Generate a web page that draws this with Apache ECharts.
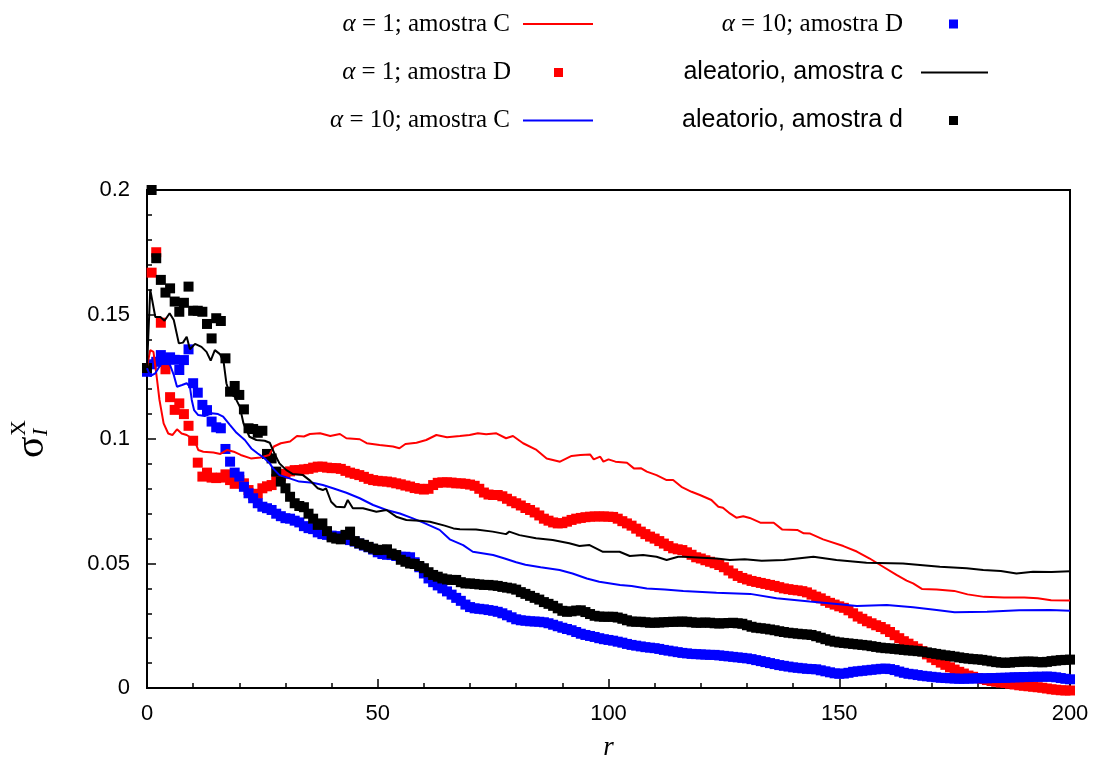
<!DOCTYPE html>
<html>
<head>
<meta charset="utf-8">
<script src="https://cdn.jsdelivr.net/npm/echarts@6/dist/echarts.min.js"></script>
<style>html,body{margin:0;padding:0;background:#fff}#c{width:1096px;height:758px}</style>
</head>
<body>
<div id="c"></div>
<script>
// ---------- DATA ----------
const seriesNames = ['α = 1; amostra C', 'α = 1; amostra D', 'α = 10; amostra C', 'α = 10; amostra D', 'aleatorio, amostra c', 'aleatorio, amostra d'];
const xTicks = [0, 50, 100, 150, 200];
const yTicks = [0, 0.05, 0.1, 0.15, 0.2];

// lines: [r, value]
const alpha1C = [[0,0.129],[0.7,0.1357],[1.4,0.135],[2.1,0.125],[2.7,0.1157],[3.6,0.1063],[4.6,0.1022],[5.5,0.1016],[6.5,0.1039],[7.5,0.1022],[8.6,0.1016],[9.7,0.1003],[10.4,0.0989],[11.1,0.0956],[12.2,0.0949],[14.4,0.0946],[15.9,0.094],[17.4,0.0956],[18.8,0.0949],[20.3,0.0936],[22.5,0.0922],[24.6,0.0926],[26.5,0.0936],[27.5,0.097],[29,0.0983],[31,0.099],[32.5,0.1012],[34,0.101],[35.3,0.102],[37.5,0.1023],[39.7,0.1012],[41.8,0.102],[43.2,0.1003],[46.1,0.0999],[47.6,0.0983],[50.4,0.0976],[53.3,0.097],[54.7,0.0963],[56,0.098],[58.4,0.0985],[60.5,0.0996],[62.7,0.1016],[65,0.1007],[67.8,0.1012],[69.9,0.1016],[71.7,0.1023],[73.5,0.1019],[75.7,0.1023],[77.8,0.1003],[79.3,0.1012],[81.5,0.0983],[84.4,0.0956],[86.6,0.0922],[89.5,0.0909],[92,0.0932],[93.9,0.0936],[96,0.0938],[96.8,0.0918],[98.2,0.0929],[98.9,0.0909],[100,0.0918],[101.5,0.0909],[104,0.0905],[105.5,0.0882],[107,0.0883],[108.3,0.0869],[110.4,0.0855],[112.6,0.0835],[114,0.0835],[115.8,0.0808],[118,0.0788],[119.8,0.0775],[122.3,0.0755],[123.8,0.0728],[124.8,0.0724],[126.3,0.0701],[127.7,0.0684],[129.2,0.069],[130.6,0.0683],[132.9,0.0664],[135.8,0.0664],[137.6,0.0637],[140.9,0.0635],[142.3,0.0621],[143.7,0.062],[146.5,0.0597],[150.9,0.057],[153.8,0.0548],[156.6,0.052],[159.5,0.0487],[162.4,0.0454],[164.6,0.0431],[166,0.042],[167.9,0.0398],[171.1,0.0396],[174.9,0.039],[177.8,0.0376],[181.4,0.0366],[185.7,0.0363],[190.1,0.0363],[193,0.036],[195.9,0.0352],[200,0.0351]];
const alpha10C = [[0,0.1285],[0.7,0.1253],[1.8,0.1264],[2.9,0.1297],[4,0.1317],[5,0.1297],[5.8,0.1257],[6.5,0.121],[7.6,0.1217],[8.6,0.1224],[9.3,0.121],[9.7,0.1157],[10.2,0.1116],[11.1,0.1096],[12.5,0.1092],[14,0.1103],[15.4,0.11],[16.5,0.109],[18,0.1056],[19.4,0.1025],[21.2,0.0996],[22.6,0.0962],[24,0.0942],[25.5,0.0922],[26.6,0.0902],[27.3,0.0882],[28.7,0.0855],[30.9,0.0842],[33,0.0829],[35.9,0.0824],[38.1,0.0815],[40.3,0.0802],[43.2,0.0784],[46.1,0.0762],[49,0.0735],[51.9,0.0715],[54.8,0.0701],[57.6,0.0681],[60,0.0663],[63.4,0.0635],[65.6,0.0597],[68.5,0.0574],[70.6,0.0547],[75,0.0534],[77.5,0.052],[80,0.0505],[82,0.0495],[85.3,0.0485],[89.4,0.0474],[92.2,0.046],[95.3,0.044],[98,0.0427],[102.5,0.0414],[105,0.041],[108.3,0.04],[112.2,0.0396],[116.2,0.039],[123.4,0.0383],[130.7,0.0378],[136.4,0.036],[143.6,0.0347],[149.5,0.0337],[153.8,0.0329],[160.3,0.0333],[166,0.0324],[171.1,0.0313],[175,0.0304],[182,0.0306],[189,0.0312],[195.7,0.0313],[200,0.031]];
const randomC = [[0,0.1285],[0.7,0.16],[1.8,0.149],[2.9,0.149],[3.8,0.1475],[4.9,0.1505],[5.8,0.1478],[6.9,0.1384],[7.8,0.1387],[8.6,0.1411],[9.3,0.136],[10.4,0.1382],[11.8,0.137],[12.9,0.135],[13.8,0.1315],[14.7,0.1357],[15.8,0.1341],[16.6,0.131],[17.2,0.1224],[17.9,0.1183],[19,0.117],[20.1,0.113],[20.9,0.1063],[22.2,0.1009],[23.7,0.0996],[25.5,0.0993],[26.6,0.0985],[27.6,0.0942],[28.7,0.0902],[30.2,0.0875],[31.6,0.0859],[33.8,0.0855],[35.2,0.0835],[37,0.0802],[38.1,0.0795],[38.8,0.0802],[39.9,0.0748],[41,0.0728],[42.8,0.0726],[43.5,0.0755],[44.6,0.0722],[46.8,0.0722],[49.7,0.0708],[51.9,0.0715],[54,0.0688],[56.2,0.0675],[59.1,0.0672],[61.3,0.0668],[64.5,0.0652],[66.4,0.0641],[67.8,0.0638],[71.3,0.0637],[74.9,0.0628],[77.8,0.0618],[78.5,0.0628],[80.7,0.0614],[84.3,0.0601],[87.9,0.0594],[91.5,0.0581],[93.7,0.057],[95.9,0.0574],[98.8,0.0547],[102.4,0.0547],[104.6,0.053],[107.5,0.0534],[110.4,0.0527],[112.6,0.0514],[115.1,0.0527],[116.2,0.0527],[123.4,0.052],[126.3,0.0514],[129.5,0.0517],[133.2,0.0511],[138,0.0514],[144.4,0.0527],[149.4,0.0514],[155.9,0.0503],[163.8,0.05],[171.8,0.0487],[177.6,0.0481],[181.2,0.0474],[185,0.047],[188.4,0.046],[192,0.0467],[196,0.0466],[200,0.0469]];

// squares: one value per r = 0, 1, 2, ... 200
const alpha1D = [0.1285,0.1668,0.1750,0.1467,0.1280,0.1168,0.1117,0.1143,0.1100,0.1053,
0.0993,0.0905,0.0849,0.0865,0.0845,0.0843,0.0845,0.0858,0.0835,0.0820,
0.0835,0.0822,0.0795,0.0775,0.0780,0.0802,0.0810,0.0815,0.0840,0.0850,
0.0860,0.0870,0.0875,0.0875,0.0878,0.0880,0.0885,0.0889,0.0889,0.0885,
0.0883,0.0883,0.0880,0.0872,0.0865,0.0860,0.0855,0.0848,0.0840,0.0835,
0.0832,0.0830,0.0829,0.0826,0.0822,0.0818,0.0813,0.0809,0.0803,0.0800,
0.0797,0.0800,0.0815,0.0824,0.0826,0.0826,0.0825,0.0822,0.0822,0.0820,
0.0817,0.0812,0.0800,0.0785,0.0777,0.0775,0.0775,0.0770,0.0760,0.0750,
0.0742,0.0733,0.0723,0.0715,0.0705,0.0693,0.0680,0.0672,0.0665,0.0661,
0.0662,0.0668,0.0675,0.0680,0.0683,0.0686,0.0688,0.0689,0.0689,0.0689,
0.0688,0.0687,0.0680,0.0670,0.0661,0.0652,0.0640,0.0628,0.0618,0.0608,
0.0600,0.0590,0.0580,0.0570,0.0561,0.0557,0.0554,0.0545,0.0535,0.0525,
0.0520,0.0513,0.0507,0.0501,0.0494,0.0485,0.0472,0.0460,0.0450,0.0442,
0.0436,0.0430,0.0426,0.0422,0.0418,0.0414,0.0410,0.0405,0.0400,0.0397,
0.0394,0.0392,0.0389,0.0384,0.0375,0.0367,0.0360,0.0350,0.0342,0.0335,
0.0328,0.0322,0.0312,0.0300,0.0287,0.0278,0.0268,0.0260,0.0252,0.0245,
0.0236,0.0225,0.0212,0.0200,0.0188,0.0178,0.0168,0.0158,0.0148,0.0135,
0.0122,0.0112,0.0102,0.0093,0.0083,0.0074,0.0065,0.0058,0.0050,0.0045,
0.0040,0.0036,0.0032,0.0028,0.0025,0.0022,0.0020,0.0017,0.0014,0.0011,
0.0009,0.0007,0.0005,0.0003,0.0001,-0.0002,-0.0005,-0.0007,-0.0009,-0.0010,-0.0010];
const alpha10D = [0.1270,0.1300,0.1310,0.1337,0.1317,0.1328,0.1318,0.1277,0.1317,0.1360,
0.1224,0.1186,0.1137,0.1116,0.1070,0.1047,0.1043,0.0960,0.0909,0.0865,
0.0849,0.0808,0.0782,0.0762,0.0742,0.0728,0.0722,0.0715,0.0700,0.0690,
0.0682,0.0680,0.0672,0.0665,0.0650,0.0642,0.0638,0.0625,0.0618,0.0615,
0.0612,0.0610,0.0606,0.0600,0.0594,0.0588,0.0580,0.0572,0.0565,0.0556,
0.0545,0.0538,0.0535,0.0534,0.0530,0.0527,0.0527,0.0525,0.0505,0.0485,
0.0460,0.0440,0.0425,0.0412,0.0400,0.0388,0.0375,0.0362,0.0350,0.0335,
0.0325,0.0320,0.0318,0.0316,0.0313,0.0310,0.0306,0.0300,0.0292,0.0284,
0.0276,0.0272,0.0270,0.0268,0.0267,0.0266,0.0264,0.0260,0.0254,0.0248,
0.0242,0.0237,0.0232,0.0225,0.0218,0.0213,0.0209,0.0205,0.0200,0.0196,
0.0193,0.0190,0.0186,0.0182,0.0177,0.0173,0.0170,0.0167,0.0164,0.0162,
0.0160,0.0157,0.0153,0.0150,0.0147,0.0144,0.0141,0.0139,0.0137,0.0136,
0.0135,0.0134,0.0133,0.0133,0.0131,0.0129,0.0127,0.0125,0.0123,0.0121,
0.0119,0.0116,0.0112,0.0108,0.0104,0.0100,0.0096,0.0092,0.0089,0.0086,
0.0083,0.0081,0.0079,0.0077,0.0076,0.0075,0.0071,0.0067,0.0063,0.0059,
0.0057,0.0058,0.0061,0.0065,0.0067,0.0069,0.0071,0.0073,0.0075,0.0077,
0.0078,0.0076,0.0072,0.0066,0.0061,0.0057,0.0055,0.0052,0.0049,0.0047,
0.0045,0.0043,0.0041,0.0040,0.0039,0.0038,0.0037,0.0037,0.0038,0.0038,
0.0039,0.0039,0.0039,0.0040,0.0040,0.0041,0.0041,0.0042,0.0043,0.0043,
0.0044,0.0044,0.0045,0.0045,0.0045,0.0046,0.0045,0.0043,0.0040,0.0037,0.0035];
const randomD = [0.1285,0.2000,0.1726,0.1639,0.1588,0.1605,0.1552,0.1511,0.1547,0.1612,
0.1515,0.1515,0.1511,0.1462,0.1404,0.1485,0.1474,0.1324,0.1190,0.1213,
0.1177,0.1119,0.1043,0.1040,0.1025,0.1033,0.0940,0.0922,0.0869,0.0829,
0.0802,0.0768,0.0742,0.0731,0.0726,0.0700,0.0680,0.0655,0.0661,0.0630,
0.0605,0.0600,0.0597,0.0615,0.0628,0.0590,0.0581,0.0575,0.0567,0.0560,
0.0554,0.0555,0.0557,0.0540,0.0534,0.0515,0.0507,0.0500,0.0498,0.0490,
0.0481,0.0465,0.0454,0.0447,0.0440,0.0436,0.0434,0.0434,0.0425,0.0420,
0.0420,0.0418,0.0416,0.0414,0.0414,0.0412,0.0410,0.0406,0.0403,0.0400,
0.0395,0.0385,0.0378,0.0370,0.0362,0.0355,0.0345,0.0338,0.0330,0.0320,
0.0310,0.0306,0.0308,0.0311,0.0312,0.0305,0.0297,0.0290,0.0287,0.0286,
0.0286,0.0286,0.0283,0.0278,0.0272,0.0267,0.0266,0.0266,0.0264,0.0262,
0.0262,0.0263,0.0264,0.0265,0.0266,0.0266,0.0267,0.0266,0.0264,0.0262,
0.0262,0.0263,0.0262,0.0260,0.0259,0.0260,0.0261,0.0262,0.0260,0.0258,
0.0252,0.0246,0.0242,0.0240,0.0238,0.0235,0.0232,0.0228,0.0225,0.0222,
0.0220,0.0218,0.0216,0.0215,0.0213,0.0208,0.0202,0.0196,0.0190,0.0186,
0.0183,0.0181,0.0179,0.0177,0.0175,0.0173,0.0171,0.0168,0.0165,0.0162,
0.0160,0.0159,0.0157,0.0155,0.0153,0.0151,0.0150,0.0148,0.0146,0.0143,
0.0140,0.0137,0.0134,0.0131,0.0129,0.0126,0.0123,0.0120,0.0118,0.0116,
0.0115,0.0113,0.0110,0.0107,0.0104,0.0102,0.0101,0.0102,0.0104,0.0105,
0.0106,0.0106,0.0106,0.0104,0.0103,0.0105,0.0108,0.0110,0.0112,0.0113,0.0114];

// ---------- CHART ----------
const colors = ['#ff0000', '#ff0000', '#0000ff', '#0000ff', '#000000', '#000000'];
const toPairs = vals => vals.map((v, i) => [i, v]);
const serif = 'Liberation Serif, Times New Roman, serif';
const sans = 'Liberation Sans, Arial, Helvetica, sans-serif';

const lineSeries = (name, data, color) => ({
  name, type: 'line', data, showSymbol: false, symbol: 'none',
  lineStyle: { color, width: 2 }, itemStyle: { color }
});
const squareSeries = (name, vals, color) => ({
  name, type: 'scatter', data: toPairs(vals), symbol: 'rect', symbolSize: 10,
  clip: false, itemStyle: { color, opacity: 1 }
});

// legend layout (2 columns x 3 rows, text left of key)
const legendLayout = [
  { right: 498, top: 6.5, w: 70, h: 2, pad: 8, font: serif },
  { right: 528, top: 55, w: 9, h: 9, pad: 38, font: serif },
  { right: 498, top: 103, w: 70, h: 2, pad: 8, font: serif },
  { right: 133, top: 6.5, w: 9, h: 9, pad: 41, font: serif },
  { right: 103, top: 55, w: 67, h: 2, pad: 13, font: sans },
  { right: 133, top: 103, w: 9, h: 9, pad: 41, font: sans }
];
const legends = seriesNames.map((name, i) => {
  const L = legendLayout[i];
  return {
    data: [{ name, icon: 'rect' }], right: L.right, top: L.top, align: 'right', orient: 'vertical',
    itemWidth: L.w, itemHeight: L.h, selectedMode: false,
    formatter: n => n.charAt(0) === 'α' ? '{i|α}' + n.slice(1) : n,
    textStyle: {
      fontFamily: L.font, fontSize: 25, color: '#000', padding: [0, L.pad, 0, 0],
      rich: { i: { fontFamily: serif, fontStyle: 'italic', fontSize: 25, color: '#000' } }
    }
  };
});

const chart = echarts.init(document.getElementById('c'), null, { renderer: 'canvas' });
chart.setOption({
  animation: false,
  backgroundColor: '#fff',
  legend: legends,
  grid: { left: 147, right: 26, top: 190, bottom: 70, containLabel: false, outerBoundsMode: 'none',
          show: true, borderColor: '#000', borderWidth: 2, backgroundColor: 'transparent' },
  xAxis: {
    type: 'value', min: xTicks[0], max: xTicks[xTicks.length - 1], interval: xTicks[1] - xTicks[0],
    name: 'r', nameLocation: 'middle', nameGap: 46,
    nameTextStyle: { fontFamily: serif, fontStyle: 'italic', fontSize: 27, color: '#000' },
    axisLine: { lineStyle: { color: '#000', width: 2 } },
    axisTick: { inside: true, length: 9, lineStyle: { color: '#000', width: 1.5 } },
    minorTick: { show: true, splitNumber: 5, length: 5, lineStyle: { color: '#000', width: 1.5 } },
    axisLabel: { fontFamily: sans, fontSize: 22, color: '#000', margin: 15 },
    splitLine: { show: false }
  },
  yAxis: {
    type: 'value', min: yTicks[0], max: yTicks[yTicks.length - 1], interval: yTicks[1] - yTicks[0],
    axisLine: { lineStyle: { color: '#000', width: 2 } },
    axisTick: { inside: true, length: 9, lineStyle: { color: '#000', width: 1.5 } },
    minorTick: { show: true, splitNumber: 5, length: 5, lineStyle: { color: '#000', width: 1.5 } },
    axisLabel: { fontFamily: sans, fontSize: 22, color: '#000', margin: 17 },
    splitLine: { show: false }
  },
  graphic: [{
    type: 'group', x: 32, y: 458, rotation: Math.PI / 2,
    children: [
      { type: 'text', x: 0, y: 0, style: { text: 'σ', font: '40px ' + serif, fill: '#000', align: 'left', verticalAlign: 'middle' } },
      { type: 'text', x: 22, y: 9, style: { text: 'I', font: 'italic 22px ' + serif, fill: '#000', align: 'left', verticalAlign: 'middle' } },
      { type: 'text', x: 22, y: -13, style: { text: 'X', font: '22px ' + serif, fill: '#000', align: 'left', verticalAlign: 'middle' } }
    ]
  }],
  series: [
    lineSeries(seriesNames[0], alpha1C, colors[0]),
    squareSeries(seriesNames[1], alpha1D, colors[1]),
    lineSeries(seriesNames[2], alpha10C, colors[2]),
    squareSeries(seriesNames[3], alpha10D, colors[3]),
    lineSeries(seriesNames[4], randomC, colors[4]),
    squareSeries(seriesNames[5], randomD, colors[5])
  ]
});
</script>
</body>
</html>
